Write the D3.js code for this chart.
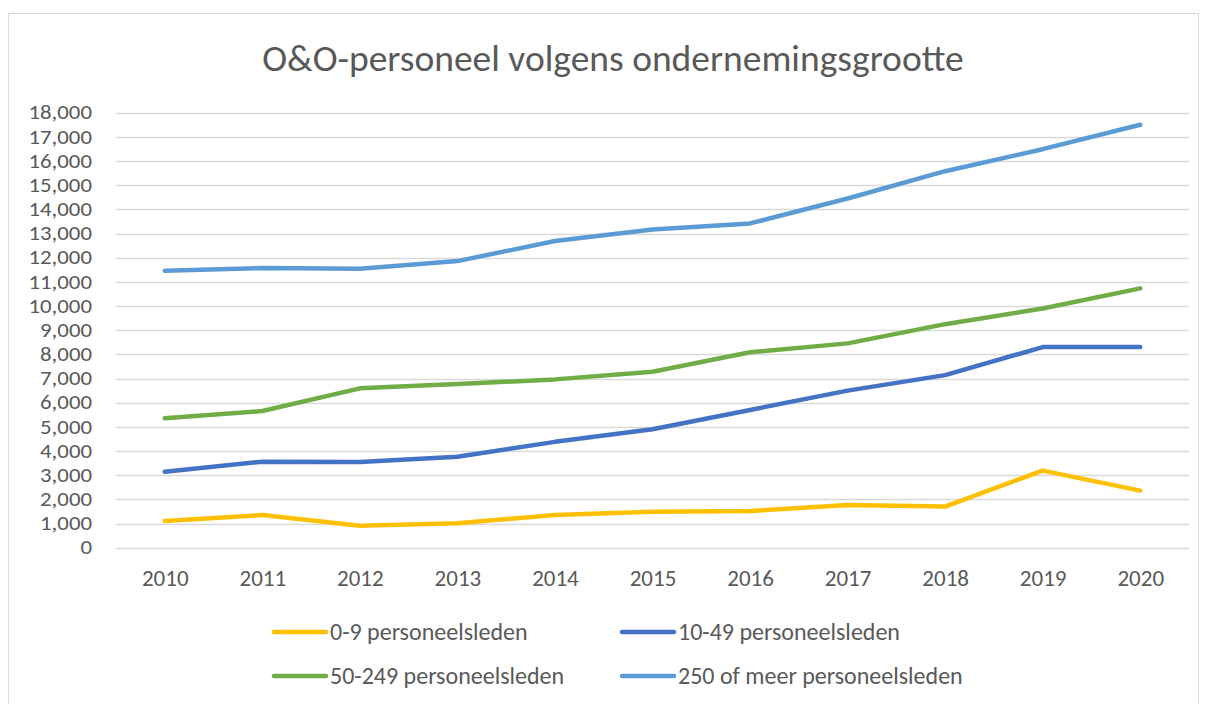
<!DOCTYPE html>
<html>
<head>
<meta charset="utf-8">
<script src="https://cdn.jsdelivr.net/npm/d3@7"></script>
<style>
  body { margin: 0; background: #fff; }
  #chart { width: 1208px; height: 704px; }
</style>
</head>
<body>
<div id="chart"></div>
<script>
const years = ["2010", "2011", "2012", "2013", "2014", "2015", "2016", "2017", "2018", "2019", "2020"];
const small = [1105, 1350, 910, 1010, 1350, 1490, 1515, 1765, 1700, 3190, 2360];
const medSmall = [3145, 3560, 3545, 3765, 4380, 4900, 5700, 6500, 7140, 8300, 8300];
const medLarge = [5355, 5655, 6595, 6770, 6965, 7280, 8085, 8455, 9250, 9900, 10730];
const large = [11460, 11570, 11545, 11860, 12690, 13170, 13420, 14450, 15580, 16490, 17500];
const seriesNames = ["0-9 personeelsleden", "10-49 personeelsleden", "50-249 personeelsleden", "250 of meer personeelsleden"];
const seriesColors = ["#FFC000", "#4472C4", "#70AD47", "#5B9BD5"];
const yTicks = d3.range(0, 18001, 1000);

const width = 1208, height = 704;
const font = "Calibri, Carlito, 'Open Sans', sans-serif";
const textColor = "#595959";

const svg = d3.select("#chart").append("svg")
    .attr("width", width)
    .attr("height", height)
    .style("font-family", font);

// chart border
svg.append("rect")
    .attr("x", 8.5).attr("y", 13.5)
    .attr("width", 1190).attr("height", 700)
    .attr("fill", "#fff")
    .attr("stroke", "#d9d9d9");

svg.append("text")
    .attr("x", 613).attr("y", 71)
    .attr("text-anchor", "middle")
    .attr("fill", textColor)
    .style("font-size", "37.5px")
    .text("O&O-personeel volgens ondernemingsgrootte");

const x = d3.scalePoint().domain(years).range([116, 1189]).padding(0.5);
const y = d3.scaleLinear().domain([0, 18000]).range([547.7, 112.7]);

// gridlines
svg.append("g")
    .selectAll("line")
    .data(yTicks)
    .join("line")
    .attr("x1", 116).attr("x2", 1189)
    .attr("y1", d => Math.round(y(d)) + 0.5)
    .attr("y2", d => Math.round(y(d)) + 0.5)
    .attr("stroke", "#d9d9d9")
    .attr("stroke-width", 1.3);

// y axis labels (slightly smaller font, stretched sideways so they don't collide)
const yAxis = svg.append("g")
    .attr("transform", "translate(92,0)")
    .call(d3.axisLeft(y).tickValues(yTicks).tickSize(0).tickPadding(0).tickFormat(d3.format(",")));
yAxis.select(".domain").remove();
yAxis.selectAll("text")
    .attr("fill", textColor)
    .attr("transform", "scale(1.17,1)")
    .style("font-size", "19.5px")
    .style("font-family", font);

// x axis labels
const xAxis = svg.append("g")
    .attr("transform", "translate(0,570)")
    .call(d3.axisBottom(x).tickSize(0).tickPadding(0));
xAxis.select(".domain").remove();
xAxis.selectAll("text")
    .attr("fill", textColor)
    .attr("dy", "0.71em")
    .style("font-size", "23px")
    .style("font-family", font);

const allSeries = [small, medSmall, medLarge, large];

const line = d3.line()
    .x((d, i) => x(years[i]))
    .y(d => y(d));

svg.append("g")
    .selectAll("path")
    .data(allSeries)
    .join("path")
    .attr("fill", "none")
    .attr("stroke", (d, i) => seriesColors[i])
    .attr("stroke-width", 4.5)
    .attr("stroke-linecap", "round")
    .attr("stroke-linejoin", "round")
    .attr("d", line);

// legend
const legendPos = [[272, 632], [620, 632], [272, 676], [620, 676]];
const legend = svg.append("g")
    .selectAll("g")
    .data(seriesNames)
    .join("g")
    .attr("transform", (d, i) => `translate(${legendPos[i][0]},${legendPos[i][1]})`);

legend.append("line")
    .attr("x1", 2).attr("x2", 54)
    .attr("stroke", (d, i) => seriesColors[i])
    .attr("stroke-width", 4.5)
    .attr("stroke-linecap", "round");

legend.append("text")
    .attr("x", 58)
    .attr("dy", "0.35em")
    .attr("fill", textColor)
    .style("font-size", "24px")
    .text(d => d);
</script>
</body>
</html>
